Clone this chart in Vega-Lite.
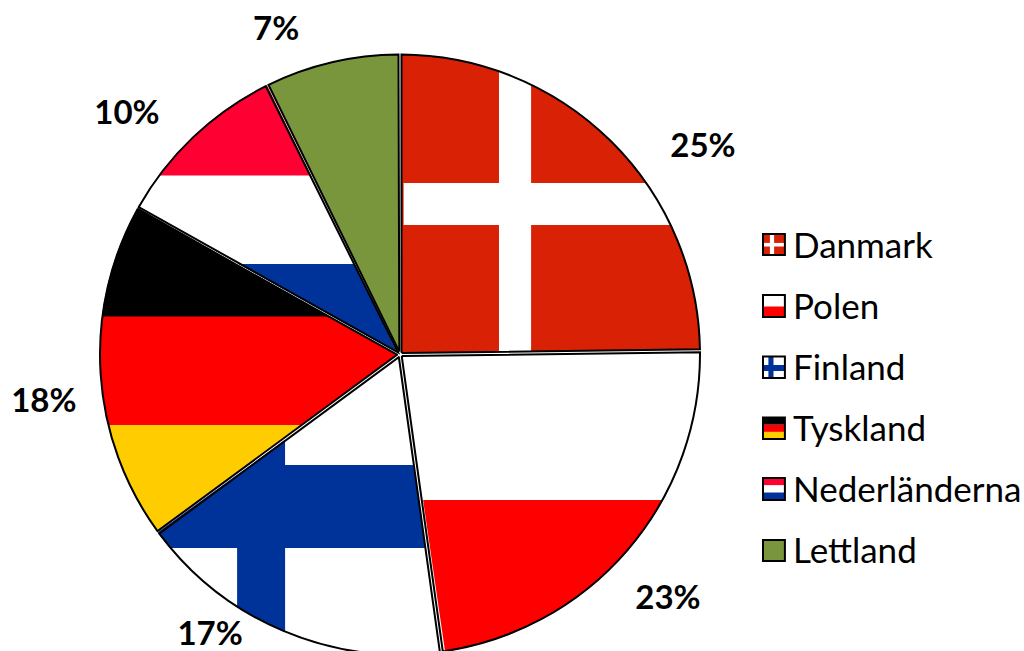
{"$schema":"https://vega.github.io/schema/vega-lite/v6.json","width":1024,"height":651,"padding":0,"autosize":{"type":"none"},"background":"white","config":{"view":{"stroke":null}},
"datasets":{
"andelar":[{"nr":1,"land":"Danmark","andel":24.8,"etikett":"25%","bas":"dk-rod","x":101,"y":68.6},{"nr":2,"land":"Polen","andel":23.0,"etikett":"23%","bas":"vit","x":89.3,"y":-82},{"nr":3,"land":"Finland","andel":17.1,"etikett":"17%","bas":"vit","x":-63.3,"y":-94},{"nr":4,"land":"Tyskland","andel":18.2,"etikett":"18%","bas":"rod","x":-118.7,"y":-16.4},{"nr":5,"land":"Nederländerna","andel":9.6,"etikett":"10%","bas":"vit","x":-91,"y":79.6},{"nr":6,"land":"Lettland","andel":7.3,"etikett":"7%","bas":"oliv","x":-41.3,"y":107.7}],
"ranger":[
{"del":"dk-v","farg":"vit","x":33,"x2":43.7,"y":102.7},{"del":"dk-v","farg":"vit","x":33,"x2":43.7,"y":0.6},
{"del":"dk-h","farg":"vit","x":1.2,"x2":106.7,"y":56.7},{"del":"dk-h","farg":"vit","x":1.2,"x2":106.7,"y":42.7},
{"del":"pl","farg":"rod","x":7.7,"x2":106.7,"y":-49},{"del":"pl","farg":"rod","x":15.2,"x2":106.7,"y":-100.7},
{"del":"fi-h","farg":"bla","x":-49.8,"x2":4.7,"y":-37.3},{"del":"fi-h","farg":"bla","x":-88,"x2":8.5,"y":-65},
{"del":"fi-v","farg":"bla","x":-54.3,"x2":-38.3,"y":-65},{"del":"fi-v","farg":"bla","x":-54.3,"x2":-38.3,"y":-104},
{"del":"fi-t","farg":"bla","x":-38.3,"x2":-38.3,"y":-28.9},{"del":"fi-t","farg":"bla","x":-49.8,"x2":-38.3,"y":-37.3},
{"del":"de-s","farg":"svart","x":-106.7,"x2":-97.7,"y":54.3},{"del":"de-s","farg":"svart","x":-106.7,"x2":-23.7,"y":12.2},
{"del":"de-g","farg":"gul","x":-106.7,"x2":-32.7,"y":-24},{"del":"de-g","farg":"gul","x":-106.7,"x2":-85,"y":-62.3},
{"del":"nl-r","farg":"nl-rod","x":-100,"x2":-46,"y":92.7},{"del":"nl-r","farg":"nl-rod","x":-100,"x2":-29.7,"y":59.2},
{"del":"nl-b","farg":"bla","x":-53.9,"x2":-15.2,"y":29.7},{"del":"nl-b","farg":"bla","x":-1,"x2":-1,"y":0.2}],
"ikoner":[
{"land":"Danmark","farg":"dk-rod","x":121,"x2":128.3,"y":39.7,"y2":32.7},{"land":"Danmark","farg":"vit","x":123.3,"x2":124.7,"y":39.7,"y2":32.7},{"land":"Danmark","farg":"vit","x":121,"x2":128.3,"y":36.7,"y2":35.5},
{"land":"Polen","farg":"vit","x":121,"x2":128.3,"y":19.3,"y2":15.5},{"land":"Polen","farg":"rod","x":121,"x2":128.3,"y":15.5,"y2":12},
{"land":"Finland","farg":"vit","x":121,"x2":128.3,"y":-1.2,"y2":-8.3},{"land":"Finland","farg":"bla","x":122.8,"x2":124.5,"y":-1.2,"y2":-8.3},{"land":"Finland","farg":"bla","x":121,"x2":128.3,"y":-4,"y2":-6},
{"land":"Tyskland","farg":"svart","x":121,"x2":128.3,"y":-21.5,"y2":-23.9},{"land":"Tyskland","farg":"rod","x":121,"x2":128.3,"y":-23.9,"y2":-26.3},{"land":"Tyskland","farg":"gul","x":121,"x2":128.3,"y":-26.3,"y2":-28.7},
{"land":"Nederländerna","farg":"nl-rod","x":121,"x2":128.3,"y":-41.7,"y2":-44.1},{"land":"Nederländerna","farg":"vit","x":121,"x2":128.3,"y":-44.1,"y2":-46.5},{"land":"Nederländerna","farg":"bla","x":121,"x2":128.3,"y":-46.5,"y2":-49},
{"land":"Lettland","farg":"oliv","x":121,"x2":128.3,"y":-62.3,"y2":-69.3}],
"ramar":[{"land":"Danmark","x":121,"x2":128.3,"y":39.7,"y2":32.7,"tx":131,"ty":35.5},{"land":"Polen","x":121,"x2":128.3,"y":19.3,"y2":12,"tx":131,"ty":15},{"land":"Finland","x":121,"x2":128.3,"y":-1.2,"y2":-8.3,"tx":131,"ty":-5.4},{"land":"Tyskland","x":121,"x2":128.3,"y":-21.5,"y2":-28.7,"tx":131,"ty":-25.7},{"land":"Nederländerna","x":121,"x2":128.3,"y":-41.7,"y2":-49,"tx":131,"ty":-46},{"land":"Lettland","x":121,"x2":128.3,"y":-62.3,"y2":-69.3,"tx":131,"ty":-66.4}],
"cirkel":[{"del":"utanfor"}]
},
"layer":[
{"data":{"name":"andelar"},"mark":{"type":"arc","innerRadius":3,"outerRadius":300,"padAngle":0.01},"encoding":{"x":{"datum":0,"type":"quantitative","scale":{"domain":[-133.33,208],"nice":false,"zero":false},"axis":null},"y":{"datum":-0.5,"type":"quantitative","scale":{"domain":[-99.33,117.67],"nice":false,"zero":false},"axis":null},"theta":{"field":"andel","type":"quantitative","stack":true},"order":{"field":"nr"},"fill":{"field":"bas","type":"nominal","legend":null,"scale":{"domain":["dk-rod","vit","rod","bla","svart","gul","nl-rod","oliv"],"range":["#D92106","#FFFFFF","#FF0000","#003399","#000000","#FFCC00","#FF0033","#7A963C"]}}}},
{"data":{"name":"ranger"},"mark":{"type":"area","orient":"horizontal","interpolate":"linear"},"encoding":{"y":{"field":"y","type":"quantitative","axis":null,"scale":{"domain":[-99.33,117.67],"nice":false,"zero":false}},"x":{"field":"x","type":"quantitative","axis":null,"stack":null,"scale":{"domain":[-133.33,208],"nice":false,"zero":false}},"x2":{"field":"x2"},"detail":{"field":"del"},"fill":{"field":"farg","type":"nominal","legend":null}}},
{"data":{"name":"cirkel"},"mark":{"type":"arc","innerRadius":300.5,"outerRadius":900,"theta":0,"theta2":6.2832,"fill":"white"},"encoding":{"x":{"datum":0,"type":"quantitative","scale":{"domain":[-133.33,208],"nice":false,"zero":false}},"y":{"datum":-0.5,"type":"quantitative","scale":{"domain":[-99.33,117.67],"nice":false,"zero":false}}}},
{"data":{"name":"andelar"},"mark":{"type":"arc","innerRadius":3,"outerRadius":300,"padAngle":0.01,"fillOpacity":0,"stroke":"black","strokeWidth":2},"encoding":{"x":{"datum":0,"type":"quantitative","scale":{"domain":[-133.33,208],"nice":false,"zero":false}},"y":{"datum":-0.5,"type":"quantitative","scale":{"domain":[-99.33,117.67],"nice":false,"zero":false}},"theta":{"field":"andel","type":"quantitative","stack":true},"order":{"field":"nr"}}},
{"data":{"name":"andelar"},"mark":{"type":"text","font":"Lato","fontWeight":"bold","fontSize":33,"align":"center","baseline":"middle","color":"black"},"encoding":{"x":{"field":"x","type":"quantitative","scale":{"domain":[-133.33,208],"nice":false,"zero":false}},"y":{"field":"y","type":"quantitative","scale":{"domain":[-99.33,117.67],"nice":false,"zero":false}},"text":{"field":"etikett"}}},
{"data":{"name":"ikoner"},"mark":{"type":"rect"},"encoding":{"x":{"field":"x","type":"quantitative","scale":{"domain":[-133.33,208],"nice":false,"zero":false}},"x2":{"field":"x2"},"y":{"field":"y","type":"quantitative","scale":{"domain":[-99.33,117.67],"nice":false,"zero":false}},"y2":{"field":"y2"},"fill":{"field":"farg","type":"nominal","legend":null}}},
{"data":{"name":"ramar"},"mark":{"type":"rect","fillOpacity":0,"stroke":"black","strokeWidth":2},"encoding":{"x":{"field":"x","type":"quantitative","scale":{"domain":[-133.33,208],"nice":false,"zero":false}},"x2":{"field":"x2"},"y":{"field":"y","type":"quantitative","scale":{"domain":[-99.33,117.67],"nice":false,"zero":false}},"y2":{"field":"y2"}}},
{"data":{"name":"ramar"},"mark":{"type":"text","font":"Lato","fontSize":35,"align":"left","baseline":"middle","color":"black"},"encoding":{"x":{"field":"tx","type":"quantitative","scale":{"domain":[-133.33,208],"nice":false,"zero":false}},"y":{"field":"ty","type":"quantitative","scale":{"domain":[-99.33,117.67],"nice":false,"zero":false}},"text":{"field":"land"}}}
]}
